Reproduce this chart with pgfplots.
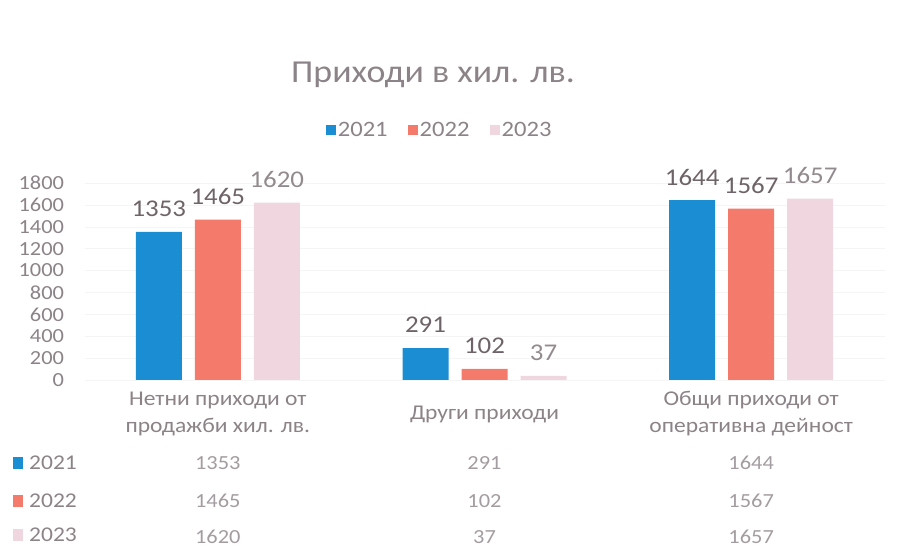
\documentclass[border=0pt]{standalone}
\usepackage{fontspec}
\setmainfont{Carlito}[FakeStretch=1.12]
\usepackage{pgfplots}
\pgfplotsset{compat=1.18}
\definecolor{cA}{HTML}{1B8ED3}
\definecolor{cB}{HTML}{F47B6B}
\definecolor{cC}{HTML}{F0D6DF}
\definecolor{txt}{HTML}{6E6368}
\definecolor{ltxt}{HTML}{8C8388}
\definecolor{tblt}{HTML}{A39CA0}
\begin{document}
\begin{tikzpicture}[x=1pt,y=1pt]
\useasboundingbox (0,0) rectangle (906,547);
\node[font=\fontsize{32}{34}\selectfont, text=ltxt] at (433,472) {Приходи в хил. лв.};
\begin{axis}[
  at={(84.5pt,167pt)}, anchor=south west,
  width=800pt, height=197pt, scale only axis,
  xmin=-0.5, xmax=2.5, ymin=0, ymax=1800,
  clip=false,
  axis line style={draw=none}, tick style={draw=none},
  ymajorgrids, grid style={black!4},
  ytick={0,200,...,1800},
  /pgf/number format/assume math mode=true,
  /pgf/number format/1000 sep={},
  yticklabel style={font=\fontsize{20}{22}\selectfont, text=ltxt, xshift=-17pt},
  xtick={0,1,2},
  xticklabels={{Нетни приходи от\\продажби хил. лв.},{Други приходи},{Общи приходи от\\оперативна дейност}},
  xticklabel style={align=center, font=\fontsize{21}{27}\selectfont, text=ltxt, anchor=center, yshift=-34pt},
  legend style={at={(0.444,1.269)}, anchor=center, draw=none, fill=none,
    legend columns=3, font=\fontsize{22}{24}\selectfont, text=ltxt,
    /tikz/every even column/.append style={column sep=18pt}},
  legend image code/.code={\fill[#1] (0pt,-5pt) rectangle (10pt,5pt);},
  nodes near coords,
  every node near coord/.append style={font=\fontsize{24}{26}\selectfont, text=txt, anchor=center, yshift=23pt},
]
\addplot[ybar, bar width=46pt, bar shift=-59pt, fill=cA, draw=none,
  every node near coord/.append style={xshift=-59pt}] coordinates {(0,1353) (1,291) (2,1644)};
\addlegendentry{2021}
\addplot[ybar, bar width=46pt, bar shift=0pt, fill=cB, draw=none] coordinates {(0,1465) (1,102) (2,1567)};
\addlegendentry{2022}
\addplot[ybar, bar width=46pt, bar shift=59pt, fill=cC, draw=none,
  every node near coord/.append style={xshift=59pt, text=txt!75}] coordinates {(0,1620) (1,37) (2,1657)};
\addlegendentry{2023}
% data table
\addplot[forget plot, draw=none, mark=none, point meta=explicit,
  nodes near coords={\pgfmathprintnumber[1000 sep={}]{\pgfplotspointmeta}},
  every node near coord/.style={font=\fontsize{20}{22}\selectfont, text=tblt, anchor=center, inner sep=1pt}]
  coordinates {(0,-758) [1353] (1,-758) [291] (2,-758) [1644]};
\addplot[forget plot, draw=none, mark=none, point meta=explicit,
  nodes near coords={\pgfmathprintnumber[1000 sep={}]{\pgfplotspointmeta}},
  every node near coord/.style={font=\fontsize{20}{22}\selectfont, text=tblt, anchor=center, inner sep=1pt}]
  coordinates {(0,-1106) [1465] (1,-1106) [102] (2,-1106) [1567]};
\addplot[forget plot, draw=none, mark=none, point meta=explicit,
  nodes near coords={\pgfmathprintnumber[1000 sep={}]{\pgfplotspointmeta}},
  every node near coord/.style={font=\fontsize{20}{22}\selectfont, text=tblt, anchor=center, inner sep=1pt}]
  coordinates {(0,-1435) [1620] (1,-1435) [37] (2,-1435) [1657]};
\end{axis}
\fill[cA] (13,78) rectangle (23,90);
\node[anchor=west, font=\fontsize{21}{23}\selectfont, text=ltxt, inner sep=0pt] at (29,84) {2021};
\fill[cB] (13,40) rectangle (23,52);
\node[anchor=west, font=\fontsize{21}{23}\selectfont, text=ltxt, inner sep=0pt] at (29,46) {2022};
\fill[cC] (13,6) rectangle (23,18);
\node[anchor=west, font=\fontsize{21}{23}\selectfont, text=ltxt, inner sep=0pt] at (29,12) {2023};
\end{tikzpicture}
\end{document}
